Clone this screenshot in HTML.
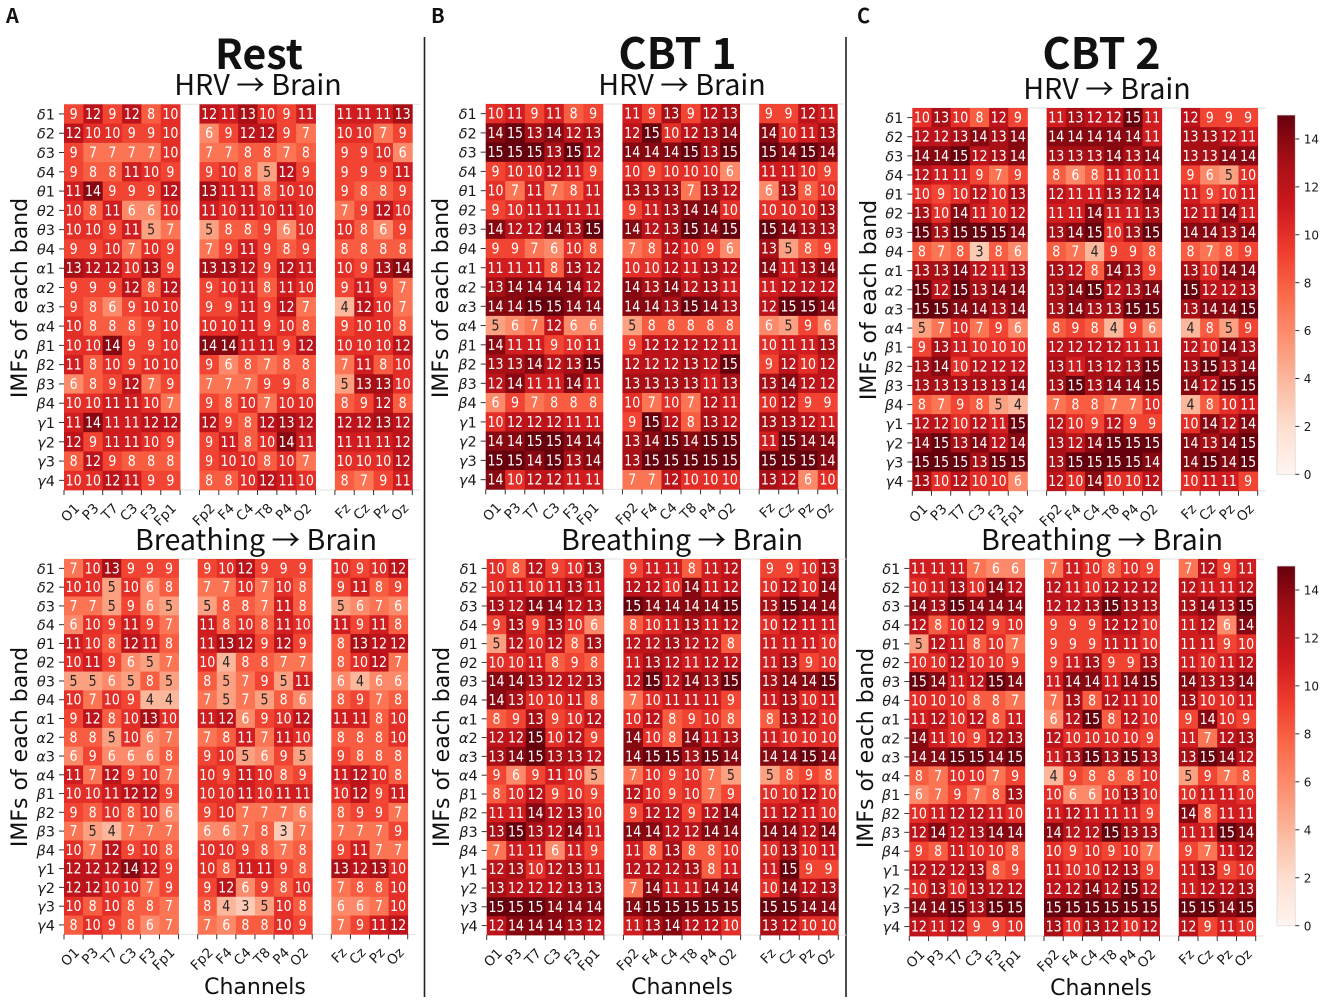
<!DOCTYPE html>
<html lang="en">
<head>
<meta charset="utf-8">
<title>Directional coupling heatmaps: HRV and breathing to brain</title>
<style>
html,body{margin:0;padding:0;background:#fff;}
svg{display:block;}
.cell-text{font-family:"DejaVu Sans",sans-serif;font-size:12.6px;text-anchor:middle;}
.tick-text{font-family:"DejaVu Sans",sans-serif;font-size:14.5px;fill:#1a1a1a;}
.x-tick-text{font-size:13.5px;}
.axis-title{font-family:"DejaVu Sans",sans-serif;font-size:22px;fill:#111;text-anchor:middle;}
.head{font-family:"Noto Sans CJK SC","Liberation Sans",sans-serif;text-anchor:middle;fill:#111;}
.big{font-size:43px;font-weight:700;}
.rest{font-size:41px;}
.sub{font-size:28.6px;font-weight:400;}
.letter{font-family:"Noto Sans CJK SC","Liberation Sans",sans-serif;font-size:20px;font-weight:700;fill:#111;}
</style>
</head>
<body>
<svg id="figure" xmlns="http://www.w3.org/2000/svg" width="1325" height="1004" viewBox="0 0 1325 1004">
  <rect x="0" y="0" width="1325" height="1004" fill="#fff"/>
  <defs><linearGradient id="reds-gradient" x1="0" y1="1" x2="0" y2="0"></linearGradient></defs>

  <text class="letter" x="6" y="23">A</text>
  <text class="letter" x="431" y="23">B</text>
  <text class="letter" x="857" y="23">C</text>

  <text class="head big rest" x="259" y="69">Rest</text>
  <text class="head big" x="677.5" y="69">CBT 1</text>
  <text class="head big" x="1101.5" y="69">CBT 2</text>

  <text class="head sub" x="258" y="95">HRV → Brain</text>
  <text class="head sub" x="682" y="95">HRV → Brain</text>
  <text class="head sub" x="1107" y="99">HRV → Brain</text>

  <text class="head sub" x="256" y="550">Breathing → Brain</text>
  <text class="head sub" x="682" y="550">Breathing → Brain</text>
  <text class="head sub" x="1102" y="550">Breathing → Brain</text>

  <text class="axis-title" x="255" y="994">Channels</text>
  <text class="axis-title" x="682" y="994">Channels</text>
  <text class="axis-title" x="1101" y="995">Channels</text>

  <line x1="424.5" y1="37" x2="424.5" y2="997" stroke="#222" stroke-width="1.6"/>
  <line x1="846" y1="37" x2="846" y2="997" stroke="#222" stroke-width="1.6"/>
  <g id="plots"></g>
</svg>
<script>
const channels = ["O1","P3","T7","C3","F3","Fp1",null,"Fp2","F4","C4","T8","P4","O2",null,"Fz","Cz","Pz","Oz"];
const bandNames = ["δ","δ","δ","δ","θ","θ","θ","θ","α","α","α","α","β","β","β","β","γ","γ","γ","γ"];
const bandNumbers = [1,2,3,4,1,2,3,4,1,2,3,4,1,2,3,4,1,2,3,4];
const colorbarTicks = [0,2,4,6,8,10,12,14];
const valueMax = 15;

const restHrv = [
[9,12,9,12,8,10,12,11,13,10,9,11,11,11,11,13],
[12,10,10,9,9,10,6,9,12,12,9,7,10,10,7,9],
[9,7,7,7,7,10,7,7,8,8,7,8,9,9,10,6],
[9,8,8,11,10,9,9,10,8,5,12,9,9,9,9,11],
[11,14,9,9,9,12,13,11,11,8,10,10,9,8,8,9],
[10,8,11,6,6,10,11,10,11,10,11,10,7,9,12,10],
[10,10,9,11,5,7,5,8,8,9,6,10,10,8,6,9],
[9,9,10,7,10,9,7,9,11,9,8,9,8,8,8,8],
[13,12,12,10,13,9,13,13,12,9,12,11,10,9,13,14],
[9,9,9,12,8,12,9,10,11,8,11,10,9,11,9,7],
[9,8,6,9,10,10,9,9,11,9,12,7,4,12,10,7],
[10,8,8,8,9,10,10,10,11,9,10,8,9,10,10,8],
[10,10,14,9,9,10,14,14,11,11,9,12,10,10,10,12],
[11,8,10,9,10,10,9,6,8,7,8,8,7,11,8,10],
[6,8,9,12,7,9,7,7,7,9,9,8,5,13,13,10],
[10,10,11,11,10,7,9,8,10,7,10,10,8,9,12,8],
[11,14,11,11,12,12,12,9,8,12,13,12,12,12,13,12],
[12,9,11,11,10,9,9,11,8,10,14,11,11,11,11,12],
[8,12,9,8,8,8,9,10,10,8,10,7,10,10,10,12],
[10,10,12,11,9,9,8,8,10,12,11,10,8,7,9,11]];

const restBreathing = [
[7,10,13,9,9,9,9,10,12,9,9,9,10,9,10,12],
[10,10,5,10,6,8,7,7,10,7,10,8,9,11,8,9],
[7,7,5,9,6,5,5,8,8,7,11,8,5,6,7,6],
[6,10,9,11,9,7,11,8,10,8,11,10,11,9,11,8],
[11,10,8,12,11,8,11,13,12,9,12,9,8,13,12,12],
[10,11,9,6,5,7,10,4,8,8,7,7,8,10,12,7],
[5,5,6,5,8,5,8,5,7,9,5,11,6,4,6,6],
[10,7,10,9,4,4,7,5,7,5,8,6,8,9,7,8],
[9,12,8,10,13,10,11,12,6,9,10,12,11,11,8,10],
[8,8,5,10,6,7,7,8,11,7,11,10,8,8,8,10],
[6,9,6,6,6,8,9,10,5,6,9,5,9,8,8,8],
[11,7,12,9,10,7,10,9,11,10,8,9,11,12,10,8],
[10,10,11,12,12,9,10,10,11,10,11,11,10,12,9,11],
[9,8,10,8,10,6,9,10,7,7,7,6,8,9,9,7],
[7,5,4,7,7,7,6,6,7,8,3,7,7,7,7,9],
[10,7,12,9,10,8,10,10,9,8,7,8,9,11,7,7],
[12,12,12,14,12,9,10,8,11,11,9,8,13,12,13,10],
[12,12,10,10,7,9,9,12,6,9,8,10,7,8,8,10],
[10,8,10,8,8,7,8,4,3,5,10,8,6,6,7,10],
[8,10,9,8,6,7,7,6,8,8,10,9,7,9,11,12]];

const cbt1Hrv = [
[10,11,9,11,8,9,11,9,13,9,12,13,9,9,12,11],
[14,15,13,14,12,13,12,15,10,12,13,14,14,10,11,13],
[15,15,15,13,15,12,14,14,14,15,13,15,15,14,15,14],
[9,10,10,12,11,9,10,9,10,10,10,6,11,11,10,9],
[10,7,11,7,8,11,13,13,13,7,13,12,6,13,8,10],
[9,10,11,11,11,11,9,11,13,14,14,10,10,10,10,13],
[14,12,12,14,13,15,14,12,13,15,14,15,15,14,13,13],
[9,9,7,6,10,8,7,8,12,10,9,6,13,5,8,9],
[11,11,11,8,13,12,10,10,12,11,13,12,14,11,13,14],
[13,14,14,14,14,12,14,13,14,12,13,11,11,12,12,12],
[14,14,15,15,14,14,14,14,13,15,14,13,12,15,15,14],
[5,6,7,12,6,6,5,8,8,8,8,8,6,5,9,6],
[14,11,11,9,10,11,9,12,12,12,12,11,10,11,11,13],
[13,13,14,12,13,15,12,12,12,13,12,15,9,12,10,12],
[12,14,11,11,14,11,13,13,13,13,11,13,13,14,12,12],
[6,9,7,8,8,8,10,7,10,7,12,11,10,12,9,9],
[10,12,12,12,11,11,9,15,12,8,13,12,13,13,12,11],
[14,14,15,15,14,14,13,14,15,14,15,15,11,15,14,14],
[15,15,14,15,13,14,13,15,15,15,15,15,15,15,15,14],
[14,10,12,12,11,11,7,7,12,10,10,10,13,12,6,10]];

const cbt1Breathing = [
[10,8,12,9,10,13,9,11,11,8,11,12,9,9,10,13],
[10,11,10,11,13,11,12,12,10,14,11,12,10,12,10,14],
[13,12,14,14,12,13,15,14,14,14,14,15,13,15,14,14],
[9,13,9,13,10,6,8,10,11,13,11,12,10,12,11,11],
[5,12,10,12,8,13,12,12,13,12,12,8,11,11,11,10],
[10,10,11,8,9,8,11,13,12,11,12,12,11,13,9,10],
[14,14,13,12,12,13,12,15,12,14,13,15,13,14,14,15],
[14,13,10,10,11,8,7,10,11,11,11,9,11,13,10,11],
[8,9,13,9,10,12,10,12,8,9,10,8,8,13,12,10],
[12,12,15,10,12,9,14,10,8,14,11,13,11,10,10,10],
[13,14,15,13,13,12,14,15,15,13,15,14,14,14,15,14],
[9,6,9,11,10,5,7,10,9,10,7,5,5,8,9,8],
[8,10,12,9,10,9,12,10,9,10,7,9,10,10,12,10],
[11,11,14,12,13,10,9,12,12,9,12,14,11,12,11,10],
[13,15,13,12,14,11,14,14,12,12,14,14,14,14,12,14],
[7,11,11,6,11,9,11,8,13,8,8,10,10,13,10,11],
[12,13,10,12,13,11,12,12,12,13,8,11,11,15,9,9],
[13,12,12,12,13,13,7,14,11,11,14,14,10,14,12,13],
[15,15,15,14,14,14,14,15,15,15,15,15,15,15,14,14],
[12,14,14,14,13,12,11,13,14,12,12,10,13,12,10,10]];

const cbt2Hrv = [
[10,13,10,8,12,9,11,13,12,12,15,11,12,9,9,9],
[12,12,13,14,13,14,14,14,14,14,14,11,13,13,12,11],
[14,14,15,12,13,14,13,13,13,14,13,14,13,13,14,14],
[12,11,11,9,7,9,8,6,8,11,10,11,9,6,5,10],
[10,9,10,12,10,13,12,11,11,13,12,14,11,9,10,11],
[13,10,14,11,10,12,11,11,14,11,11,13,12,11,14,11],
[15,13,15,15,15,14,13,14,15,10,13,15,14,14,13,14],
[8,7,8,3,8,6,8,7,4,9,9,8,8,7,8,9],
[13,13,14,12,11,13,13,12,8,14,13,9,13,10,14,14],
[15,12,15,13,14,14,13,14,15,12,13,14,15,12,12,13],
[15,15,14,14,13,14,13,14,13,13,15,15,13,14,14,15],
[5,7,10,7,9,6,8,9,8,4,9,6,4,8,5,9],
[9,13,11,10,10,10,12,12,12,12,11,11,12,10,14,13],
[13,14,10,12,12,12,13,11,13,12,13,15,13,15,13,14],
[13,13,13,13,13,14,13,15,13,14,14,15,14,12,15,15],
[8,7,9,8,5,4,7,8,8,7,7,10,4,8,10,11],
[12,12,10,12,11,15,12,10,9,12,9,9,10,14,12,14],
[14,15,13,14,12,14,13,12,14,15,15,15,14,13,14,15],
[15,15,15,13,15,15,13,15,15,15,15,14,14,15,14,15],
[13,10,12,10,10,6,12,10,14,10,10,12,10,11,11,9]];

const cbt2Breathing = [
[11,11,11,7,6,6,7,11,10,8,10,9,7,12,9,11],
[10,11,13,10,14,12,12,11,10,12,12,12,12,11,11,12],
[14,13,15,14,14,14,12,12,13,15,13,13,13,14,13,15],
[12,8,10,12,9,10,9,9,9,12,12,10,11,12,6,14],
[5,12,11,8,10,7,9,9,9,11,11,10,11,11,9,10],
[10,10,12,10,10,9,9,11,13,9,9,13,11,10,11,12],
[15,14,11,12,15,14,11,14,14,11,14,15,14,13,13,14],
[10,10,10,8,8,7,7,13,8,12,11,10,13,10,10,11],
[11,12,10,12,8,11,6,12,15,8,12,10,9,14,10,9],
[14,11,10,9,12,13,12,10,10,10,10,9,11,7,12,13],
[14,14,15,15,14,15,11,13,15,13,15,13,13,15,14,12],
[8,7,10,10,7,9,4,9,8,8,8,10,5,9,7,8],
[6,7,9,7,8,13,10,6,6,10,13,10,10,11,11,10],
[10,11,12,12,11,10,11,12,11,11,11,9,14,8,11,11],
[12,14,12,13,14,14,14,12,12,15,13,13,11,11,15,14],
[9,8,11,10,10,8,10,9,10,9,10,7,9,7,11,12],
[12,12,12,13,8,9,11,10,10,12,13,9,11,13,9,10],
[10,13,10,13,12,12,12,12,14,12,15,12,11,12,12,13],
[14,14,15,13,15,15,15,15,15,15,15,15,15,15,14,15],
[12,11,12,9,9,10,13,10,13,12,10,12,12,9,11,10]];

const SVG_NS = "http://www.w3.org/2000/svg";
const root = document.getElementById("plots");
const redsStops = [[255,245,240],[254,224,210],[252,187,161],[252,146,114],[251,106,74],[239,59,44],[203,24,29],[165,15,21],[103,0,13]];

function reds(value) {
  const t = Math.max(0, Math.min(1, value / valueMax)) * (redsStops.length - 1);
  const i = Math.min(redsStops.length - 2, Math.floor(t));
  const f = t - i;
  const c = redsStops[i].map((v, k) => Math.round(v + (redsStops[i + 1][k] - v) * f));
  return "rgb(" + c.join(",") + ")";
}

function make(tag, attrs, parent) {
  const el = document.createElementNS(SVG_NS, tag);
  for (const key in attrs) el.setAttribute(key, attrs[key]);
  parent.appendChild(el);
  return el;
}

function drawHeatmap(id, matrix, box, titleBaselineX, titleY) {
  const group = make("g", {}, root);
  
  
  const cols = channels.length;
  const rows = bandNames.length;
  const xScale = c => box.x + c * box.w / cols;
  const yScale = r => box.y + r * box.h / rows;
  const cw = box.w / cols;
  const rh = box.h / rows;

  [box.y, box.y + box.h].forEach((y, k) => {
    const rule = make("line", {x1: box.x, x2: box.x + box.w + 8, y1: y, y2: y, stroke: "#e2e2e2", "stroke-width": 1}, group);
    
    
  });

  matrix.forEach((row, r) => {
    let dataCol = 0;
    channels.forEach((channel, c) => {
      if (channel === null) return;
      const value = row[dataCol++];
      const rect = make("rect", {x: xScale(c), y: yScale(r), width: cw + 0.4, height: rh + 0.4, fill: reds(value)}, group);
      
      
    });
  });
  matrix.forEach((row, r) => {
    let dataCol = 0;
    channels.forEach((channel, c) => {
      if (channel === null) return;
      const value = row[dataCol++];
      const tx = xScale(c) + cw / 2;
      const ty = yScale(r) + rh / 2 + 5;
      const label = make("text", {class: "cell-text", x: 0, y: 0, transform: "translate(" + tx + " " + ty + ") scale(1 1.18)", fill: value <= 5 ? "#262626" : "#ffffff"}, group);
      label.textContent = value;
      
      
    });
  });

  bandNames.forEach((band, r) => {
    const cy = yScale(r) + rh / 2;
    const tick = make("line", {x1: box.x - 5, x2: box.x, y1: cy, y2: cy, stroke: "#333", "stroke-width": 1}, group);
    
    
    const label = make("text", {class: "tick-text", x: box.x - 9, y: cy + 5.5, "text-anchor": "end"}, group);
    
    
    const greek = make("tspan", {"font-style": "italic"}, label);
    greek.textContent = band;
    const num = make("tspan", {}, label);
    num.textContent = bandNumbers[r];
  });

  for (let c = 0; c <= cols; c++) {
    const tick = make("line", {x1: xScale(c), x2: xScale(c), y1: box.y + box.h, y2: box.y + box.h + 5, stroke: "#333", "stroke-width": 1}, group);
    
    
  }
  channels.forEach((channel, c) => {
    if (channel === null) return;
    const ax = xScale(c) + cw / 2 + 6.6;
    const ay = box.y + box.h + 19;
    const label = make("text", {class: "tick-text x-tick-text", x: ax, y: ay, "text-anchor": "end", transform: "rotate(-45 " + ax + " " + ay + ")"}, group);
    label.textContent = channel;
    
    
  });

  const title = make("text", {class: "axis-title", x: titleBaselineX, y: titleY, transform: "rotate(-90 " + titleBaselineX + " " + titleY + ")"}, group);
  title.textContent = "IMFs of each band";
  
  
}

function drawColorbar(id, box) {
  const group = make("g", {}, root);
  
  
  const yScale = v => box.y + box.h - v / valueMax * box.h;
  const bar = make("rect", {x: box.x, y: box.y, width: box.w, height: box.h, fill: "url(#reds-gradient)", stroke: "#dddddd", "stroke-width": 0.8}, group);
  
  
  colorbarTicks.forEach(v => {
    const y = yScale(v);
    const tick = make("line", {x1: box.x + box.w, x2: box.x + box.w + 4, y1: y, y2: y, stroke: "#333", "stroke-width": 1}, group);
    
    
    const label = make("text", {class: "tick-text", x: box.x + box.w + 8.5, y: y + 4.6, style: "font-size:12px"}, group);
    label.textContent = v;
    
    
  });
}

const gradient = document.getElementById("reds-gradient");
redsStops.forEach((c, i) => {
  make("stop", {offset: i / (redsStops.length - 1), "stop-color": "rgb(" + c.join(",") + ")"}, gradient);
});

drawHeatmap("rest-hrv", restHrv, {x: 64, y: 104.3, w: 348.3, h: 385.7}, 27, 298);
drawHeatmap("rest-breathing", restBreathing, {x: 64, y: 559, w: 343.7, h: 375.3}, 27, 747);
drawHeatmap("cbt1-hrv", cbt1Hrv, {x: 485.7, y: 104, w: 351.6, h: 385.3}, 448, 298);
drawHeatmap("cbt1-breathing", cbt1Breathing, {x: 486.7, y: 559, w: 351.6, h: 376}, 449, 747);
drawHeatmap("cbt2-hrv", cbt2Hrv, {x: 912.3, y: 108, w: 345.4, h: 382.7}, 876, 300);
drawHeatmap("cbt2-breathing", cbt2Breathing, {x: 909.3, y: 559, w: 346.4, h: 377}, 873, 748);
drawColorbar("colorbar-hrv", {x: 1277, y: 115, w: 18.3, h: 359.3});
drawColorbar("colorbar-breathing", {x: 1277, y: 566, w: 18.3, h: 359.7});
</script>
</body>
</html>
